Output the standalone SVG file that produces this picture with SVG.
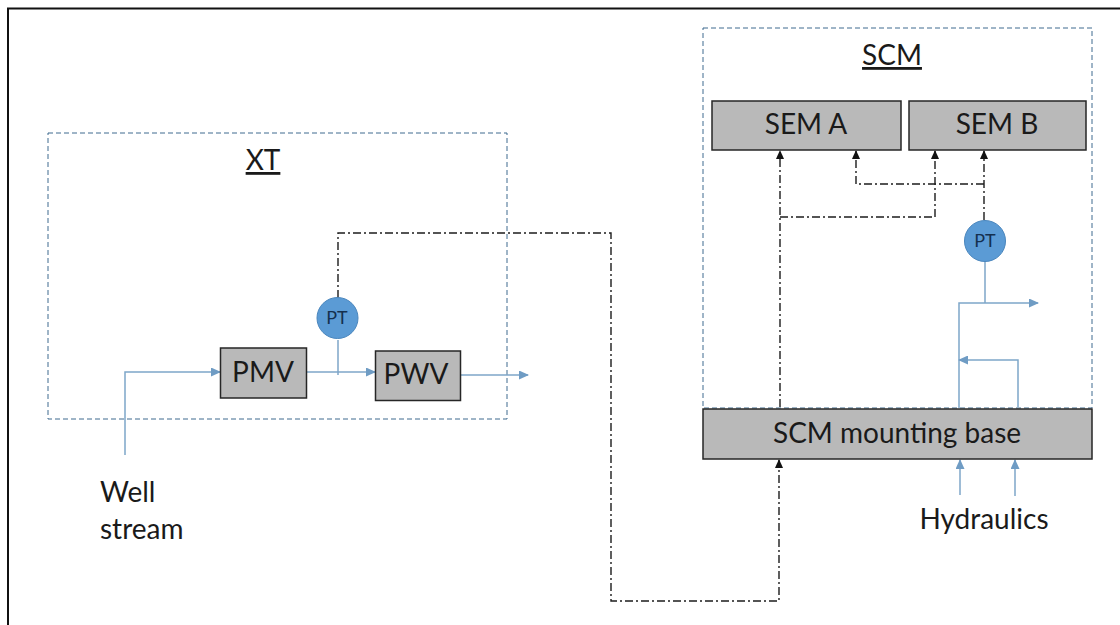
<svg xmlns="http://www.w3.org/2000/svg" width="1120" height="625" viewBox="0 0 1120 625">
<style>
text{font-family:"Lato","Open Sans","Liberation Sans",sans-serif;fill:#1a1a1a;text-anchor:middle}
.box{fill:#b9b9b9;stroke:#262626;stroke-width:1.5}
.zone{fill:none;stroke:#3f6a8f;stroke-width:1;stroke-dasharray:5 3}
.flow{fill:none;stroke:#7ea6c9;stroke-width:1.5}
.sig{fill:none;stroke:#1c1c1c;stroke-width:1.4;stroke-dasharray:8 3 2 3}
.pt{fill:#5b9bd5;stroke:#4a86bd;stroke-width:1}
.t{font-size:28px}
.s{font-size:18px;fill:#14304f}
.l{text-anchor:start}
</style>
<defs>
<marker id="fa" markerWidth="10" markerHeight="9" refX="9" refY="4.500" orient="auto" markerUnits="userSpaceOnUse"><path d="M0 0L10 4.500L0 9Z" fill="#6f9cc4"/></marker>
<marker id="sa" markerWidth="9" markerHeight="8" refX="8" refY="4" orient="auto" markerUnits="userSpaceOnUse"><path d="M0 0L9 4L0 8Z" fill="#111"/></marker>
</defs>
<path id="frame" d="M8 625V8.500H1120" fill="none" stroke="#111" stroke-width="2"/>
<g id="xt"><rect class="zone" x="48" y="133" width="459" height="286"/><text class="t" x="263" y="170" text-decoration="underline">XT</text></g>
<g id="scm"><rect class="zone" x="703" y="28" width="389" height="380"/><text class="t" x="892" y="65" text-decoration="underline">SCM</text></g>
<g id="connectors">
<path class="flow" marker-end="url(#fa)" d="M125 455V372H220"/>
<path class="flow" marker-end="url(#fa)" d="M307 372H375"/>
<path class="flow" d="M338 340V375"/>
<path class="flow" marker-end="url(#fa)" d="M461 375H528"/>
<path class="flow" marker-end="url(#fa)" d="M959 408V303H1038"/>
<path class="flow" d="M985 260V303"/>
<path class="flow" marker-end="url(#fa)" d="M1018 407V360H959"/>
<path class="flow" marker-end="url(#fa)" d="M960 495V460"/>
<path class="flow" marker-end="url(#fa)" d="M1015 496V460"/>
<path class="sig" marker-end="url(#sa)" d="M338 298V233H611V601H779V460"/>
<path class="sig" marker-end="url(#sa)" d="M780 407V151"/>
<path class="sig" d="M780 217H935"/>
<path class="sig" marker-end="url(#sa)" d="M935 217V151"/>
<path class="sig" marker-end="url(#sa)" d="M984 220V151"/>
<path class="sig" marker-end="url(#sa)" d="M984 184H856V151"/>
</g>
<g id="pmv"><rect class="box" x="220.500" y="348" width="86" height="50"/><text class="t" x="263" y="382">PMV</text></g>
<g id="pwv"><rect class="box" x="375.500" y="351" width="85" height="49.500"/><text class="t" x="416" y="384">PWV</text></g>
<g id="pt1"><circle class="pt" cx="337.500" cy="318" r="20.500"/><text class="s" x="337" y="324">PT</text></g>
<g id="pt2"><circle class="pt" cx="985" cy="241" r="20.500"/><text class="s" x="985" y="247">PT</text></g>
<g id="sema"><rect class="box" x="712" y="101" width="189" height="49"/><text class="t" x="806" y="134">SEM A</text></g>
<g id="semb"><rect class="box" x="909" y="101" width="177" height="49"/><text class="t" x="997" y="134">SEM B</text></g>
<g id="base"><rect class="box" x="703" y="409" width="389" height="50"/><text class="t" x="897" y="443">SCM mounting base</text></g>
<g id="well"><text class="t l" x="100" y="502">Well</text><text class="t l" x="100" y="539">stream</text></g>
<g id="hyd"><text class="t" x="984" y="529">Hydraulics</text></g>
</svg>
